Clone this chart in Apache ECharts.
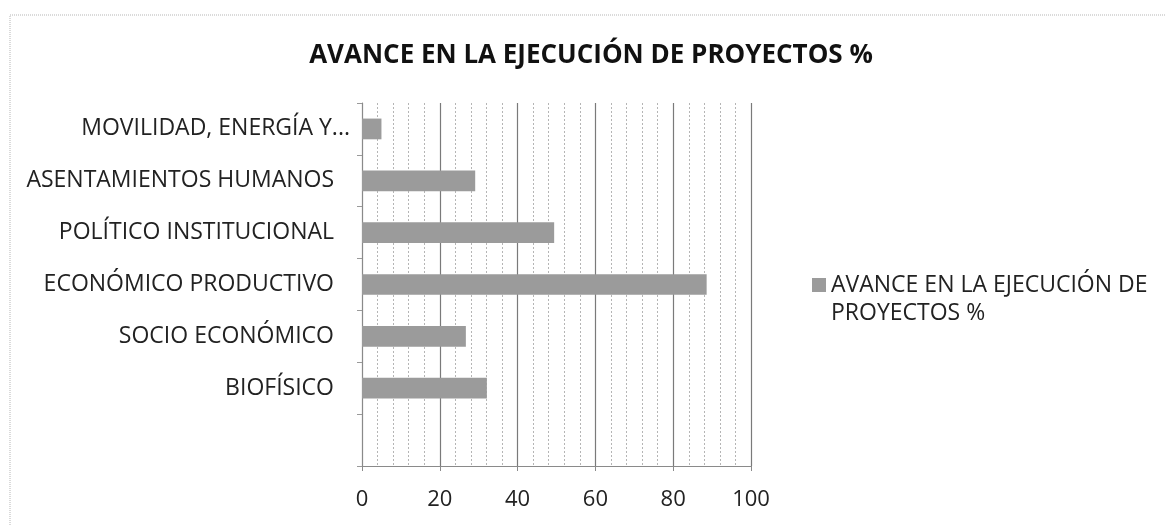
<!doctype html>
<html lang="es">
<head>
    <meta charset="utf-8"/>
    <title>Avance en la ejecución de proyectos</title>
    <script src="https://cdn.jsdelivr.net/npm/echarts@6/dist/echarts.min.js"></script>
    <style>
        html, body { margin: 0; padding: 0; background: #fff; }
        #chart { width: 1165px; height: 526px; }
    </style>
</head>
<body>
<div id="chart"></div>
<script>
    // categorias de abajo hacia arriba (la primera queda vacia, como en el original)
    const categorias = [
        "",
        "BIOFÍSICO",
        "SOCIO ECONÓMICO",
        "ECONÓMICO PRODUCTIVO",
        "POLÍTICO INSTITUCIONAL",
        "ASENTAMIENTOS HUMANOS",
        "MOVILIDAD, ENERGÍA Y..."
    ];
    const avance = [null, 32.1, 26.7, 88.6, 49.4, 29.1, 5.0];
    const serieNombre = "AVANCE EN LA EJECUCIÓN DE PROYECTOS %";
    const ejeX = { min: 0, max: 100, interval: 20 };

    const font = "'Open Sans', 'Noto Sans', sans-serif";
    var chart = echarts.init(document.getElementById("chart"));

    // la etiqueta truncada sobresale un poco hacia la derecha, como en Excel
    var etiquetas = categorias.map(function (c, i) {
        if (i === categorias.length - 1) {
            return { value: c, textStyle: { padding: [0, -16, 0, 0] } };
        }
        return c;
    });

    var option = {
        backgroundColor: "#fff",
        animation: false,
        title: {
            text: "AVANCE EN LA EJECUCIÓN DE PROYECTOS %",
            left: 586,
            top: 38,
            textAlign: "center",
            textStyle: {
                fontFamily: font,
                fontWeight: "bold",
                fontSize: 26,
                color: "#111"
            }
        },
        legend: {
            left: 807,
            top: 266,
            itemWidth: 14,
            itemHeight: 42,
            itemGap: 6,
            data: [{
                name: serieNombre,
                // cuadro alineado con la primera linea del texto
                icon: "path://M0,0L10,0L10,10L0,10Z M0,30"
            }],
            formatter: function () {
                return "AVANCE EN LA EJECUCIÓN DE\nPROYECTOS %";
            },
            textStyle: {
                fontFamily: font,
                fontSize: 23,
                color: "#222",
                lineHeight: 28
            }
        },
        grid: {
            left: 362,
            right: 414,
            top: 103,
            bottom: 60,
            containLabel: false
        },
        xAxis: {
            type: "value",
            min: ejeX.min,
            max: ejeX.max,
            interval: ejeX.interval,
            axisLine: { show: true, lineStyle: { color: "#8a8a8a", width: 1 } },
            axisTick: { show: true, length: 5, lineStyle: { color: "#8a8a8a" } },
            axisLabel: {
                fontFamily: font,
                fontSize: 22,
                color: "#222",
                margin: 23
            },
            splitLine: { show: true, lineStyle: { color: "#7a7a7a", width: 1.2 } },
            minorTick: { show: false, splitNumber: 5 },
            minorSplitLine: {
                show: true,
                lineStyle: { color: "#b5b5b5", type: [2, 2], width: 1 }
            }
        },
        yAxis: {
            type: "category",
            data: etiquetas,
            axisLine: { show: true, lineStyle: { color: "#8a8a8a", width: 1 } },
            axisTick: { show: true, length: 5, lineStyle: { color: "#9a9a9a" } },
            axisLabel: {
                fontFamily: font,
                fontSize: 23,
                color: "#222",
                margin: 28
            },
            splitLine: { show: false }
        },
        series: [
            {
                name: serieNombre,
                type: "bar",
                data: avance,
                barWidth: "40%",
                itemStyle: { color: "#9b9b9b" }
            }
        ],
        graphic: [
            {
                type: "rect",
                shape: { x: 10, y: 15, width: 1165, height: 540 },
                style: { fill: null, stroke: "#b5b5b5", lineWidth: 1, lineDash: [1, 1] },
                silent: true
            }
        ]
    };
    chart.setOption(option);
</script>
</body>
</html>
